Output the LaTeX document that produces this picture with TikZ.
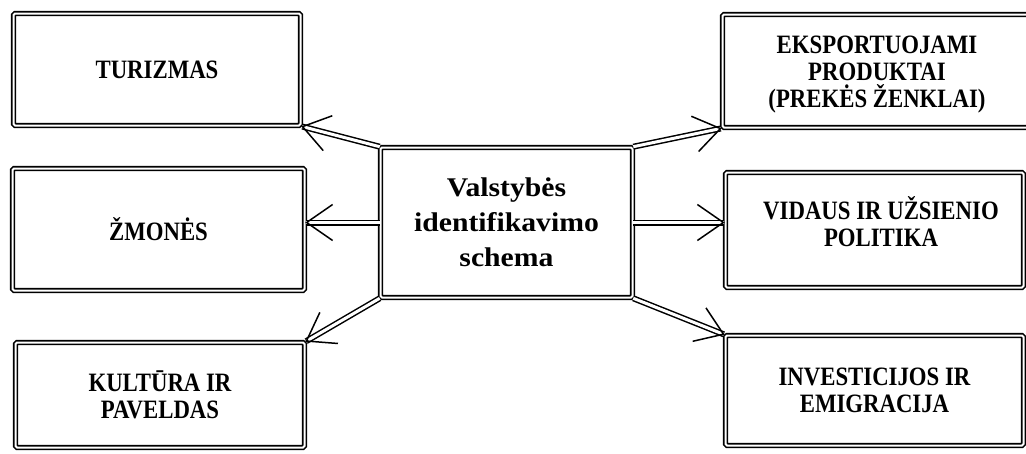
\documentclass[tikz,border=0pt]{standalone}
\usepackage{fontspec}
\setmainfont{Liberation Serif}
\newfontfamily\capfont[FakeStretch=0.86]{Liberation Serif}
\newfontfamily\cenfont[FakeStretch=1.1]{Liberation Serif}
\usetikzlibrary{arrows.meta,calc}
\tikzset{
  box/.style={draw=black, line width=1.6pt, double=white, double distance=2pt,
    rounded corners=1.5pt, align=center, inner sep=0pt,
    font=\capfont\bfseries\fontsize{26.5}{27}\selectfont},
  shaft/.style={draw=black, line width=1.5pt, double=white, double distance=3pt, shorten >=1pt},
  head/.style={line width=1.5pt, -{Straight Barb[length=26pt, width=36pt, line width=1.5pt]}}
}
\begin{document}
\begin{tikzpicture}[x=1pt, y=-1pt]
\useasboundingbox (0,0) rectangle (1026,453);
\fill[white] (0,0) rectangle (1026,453);
% left boxes
\node[box, minimum width=287pt, minimum height=112pt] (tur) at (157,69.5) {TURIZMAS};
\node[box, minimum width=292pt, minimum height=122pt] (zmo) at (158.5,229.5) {ŽMONĖS};
\node[box, minimum width=289pt, minimum height=105pt] (kul) at (160,395) {KULTŪRA IR\\PAVELDAS};
% centre
\node[box, minimum width=252pt, minimum height=150pt, font=\cenfont\bfseries\fontsize{27}{35}\selectfont] (c) at (506.5,222.5) {Valstybės\\identifikavimo\\schema};
% right boxes
\node[box, minimum width=310pt, minimum height=113pt] (eks) at (877.5,71) {};
\node[font=\capfont\bfseries\fontsize{26.5}{27}\selectfont, align=center] (ekst) at (877,75) {EKSPORTUOJAMI\\PRODUKTAI\\(PREKĖS ŽENKLAI)};
\node[box, minimum width=298pt, minimum height=115pt] (vid) at (874.5,230) {};
\node[font=\capfont\bfseries\fontsize{26.5}{27}\selectfont, align=center] (vidt) at (881,222) {VIDAUS IR UŽSIENIO\\POLITIKA};
\node[box, minimum width=298pt, minimum height=110pt] (inv) at (874.5,390.5) {INVESTICIJOS IR\\EMIGRACIJA};
% arrows
\coordinate (w) at (c.west);
\coordinate (e) at (c.east);
\coordinate (wt) at (w -| zmo.east);
\coordinate (et) at (e -| vid.west);
\draw[shaft] (c.north west) -- (tur.south east);
\draw[head] ($(tur.south east)!1pt!(c.north west)$) -- (tur.south east);
\draw[shaft] (w) -- (wt);
\draw[head] ($(wt)!1pt!(w)$) -- (wt);
\draw[shaft] (c.south west) -- (kul.north east);
\draw[head] ($(kul.north east)!1pt!(c.south west)$) -- (kul.north east);
\draw[shaft] (c.north east) -- (eks.south west);
\draw[head] ($(eks.south west)!1pt!(c.north east)$) -- (eks.south west);
\draw[shaft] (e) -- (et);
\draw[head] ($(et)!1pt!(e)$) -- (et);
\draw[shaft] (c.south east) -- (inv.north west);
\draw[head] ($(inv.north west)!1pt!(c.south east)$) -- (inv.north west);
\end{tikzpicture}
\end{document}
